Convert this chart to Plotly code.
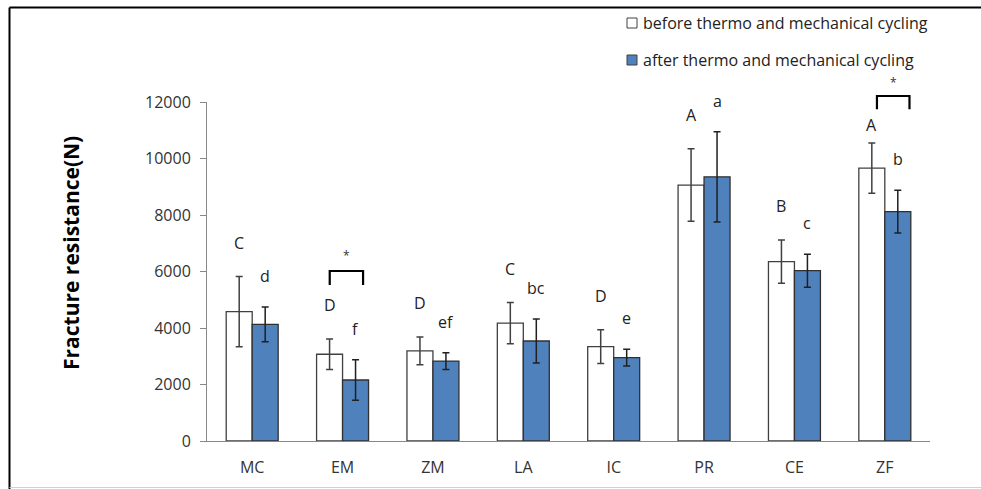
import plotly.graph_objects as go

categories = ["MC", "EM", "ZM", "LA", "IC", "PR", "CE", "ZF"]
before_vals = [4580, 3070, 3190, 4170, 3340, 9060, 6350, 9660]
before_err = [1240, 540, 490, 730, 600, 1285, 765, 890]
after_vals = [4130, 2160, 2830, 3540, 2950, 9350, 6030, 8120]
after_err = [615, 715, 295, 780, 295, 1600, 585, 755]
before_letters = ["C", "D", "D", "C", "D", "A", "B", "A"]
after_letters = ["d", "f", "ef", "bc", "e", "a", "c", "b"]
sig_groups = ["EM", "ZF"]
y_ticks = [0, 2000, 4000, 6000, 8000, 10000, 12000]
series_names = ["before thermo and mechanical cycling", "after thermo and mechanical cycling"]

YMAX = 12000
W, H = 981, 489
ML, MR, MT, MB = 207, 51, 102, 48
PW, PH = W - ML - MR, H - MT - MB

FONT = "Open Sans"
BLUE = "#4F81BD"


def px(xp):
    return (xp - ML) / PW


def py(yp):
    return (H - MB - yp) / PH


fig = go.Figure()
fig.add_trace(go.Bar(
    name=series_names[0], x=categories, y=before_vals,
    marker=dict(color="white", line=dict(color="#404040", width=1.3)),
    error_y=dict(type="data", array=before_err, color="#404040", thickness=1.5, width=3.5),
    showlegend=False,
))
fig.add_trace(go.Bar(
    name=series_names[1], x=categories, y=after_vals,
    marker=dict(color=BLUE, line=dict(color="#303030", width=1.3)),
    error_y=dict(type="data", array=after_err, color="#202020", thickness=1.5, width=3.5),
    showlegend=False,
))

ann = []
for i, c in enumerate(categories):
    shift_b = 18 if c == "ZF" else 34
    ann.append(dict(x=c, y=before_vals[i] + before_err[i], text=before_letters[i],
                    xshift=-13, yshift=shift_b, showarrow=False, yanchor="middle",
                    font=dict(family=FONT, size=16, color="#222")))
    ann.append(dict(x=c, y=after_vals[i] + after_err[i], text=after_letters[i],
                    xshift=13, yshift=31, showarrow=False, yanchor="middle",
                    font=dict(family=FONT, size=16, color="#222")))

# significance brackets
bracket_cfg = {"EM": (-0.142, 0.227, 6018, 5522, 6560),
               "ZF": (-0.087, 0.273, 12213, 11742, 12680)}
shapes = []
for g in sig_groups:
    i = categories.index(g)
    dx0, dx1, ytop, ybot, ystar = bracket_cfg[g]
    shapes.append(dict(type="path", xref="x", yref="paper",
                       path=f"M {i+dx0} {ybot/YMAX} L {i+dx0} {ytop/YMAX} L {i+dx1} {ytop/YMAX} L {i+dx1} {ybot/YMAX}",
                       line=dict(color="black", width=2.2)))
    ann.append(dict(x=i + (dx0 + dx1) / 2, y=ystar / YMAX, xref="x", yref="paper", text="*",
                    showarrow=False, yanchor="middle",
                    font=dict(family=FONT, size=12, color="#333")))

# y-axis title
ann.append(dict(x=px(71), y=py(253), xref="paper", yref="paper", xanchor="center", yanchor="middle",
                text="<b>Fracture resistance(N)</b>", textangle=-90, showarrow=False,
                font=dict(family=FONT, size=21, color="black")))

# manual legend
legend_fill = ["white", BLUE]
legend_y = [23, 60]
for k in range(2):
    yc = legend_y[k]
    shapes.append(dict(type="rect", xref="paper", yref="paper",
                       x0=px(627), x1=px(637), y0=py(yc + 5), y1=py(yc - 5),
                       fillcolor=legend_fill[k], line=dict(color="#404040", width=1)))
    ann.append(dict(x=px(641), y=py(yc), xref="paper", yref="paper", text=series_names[k],
                    xanchor="left", yanchor="middle", showarrow=False,
                    font=dict(family=FONT, size=16, color="#222")))

# outer frame lines
shapes.append(dict(type="line", xref="paper", yref="paper",
                   x0=px(9.5), x1=px(W), y0=py(7.5), y1=py(7.5),
                   line=dict(color="black", width=2)))
shapes.append(dict(type="line", xref="paper", yref="paper",
                   x0=px(9.5), x1=px(9.5), y0=py(7.5), y1=py(H),
                   line=dict(color="black", width=2)))
shapes.append(dict(type="line", xref="paper", yref="paper",
                   x0=px(9.5), x1=px(W), y0=py(487.5), y1=py(487.5),
                   line=dict(color="#d0d0d0", width=1)))

fig.update_layout(
    width=W, height=H,
    margin=dict(l=ML, r=MR, t=MT, b=MB, autoexpand=False),
    paper_bgcolor="white", plot_bgcolor="white",
    barmode="group", bargap=0.425, bargroupgap=0,
    showlegend=False,
    font=dict(family=FONT, size=16, color="#333"),
    xaxis=dict(showline=True, linecolor="#888", linewidth=1, ticks="", ticklabelstandoff=12,
               tickfont=dict(family=FONT, size=16, color="#333"), showgrid=False),
    yaxis=dict(range=[0, YMAX], tickvals=y_ticks, ticktext=[str(v) for v in y_ticks],
               showline=True, linecolor="#888", linewidth=1, ticklabelstandoff=6,
               ticks="outside", ticklen=6, tickcolor="#888", showgrid=False, zeroline=False,
               tickfont=dict(family=FONT, size=16, color="#333")),
    annotations=ann, shapes=shapes,
)

fig.write_html("out.html", config={"displayModeBar": False},
               post_script="document.body.style.margin='0';document.body.style.overflow='hidden';")
